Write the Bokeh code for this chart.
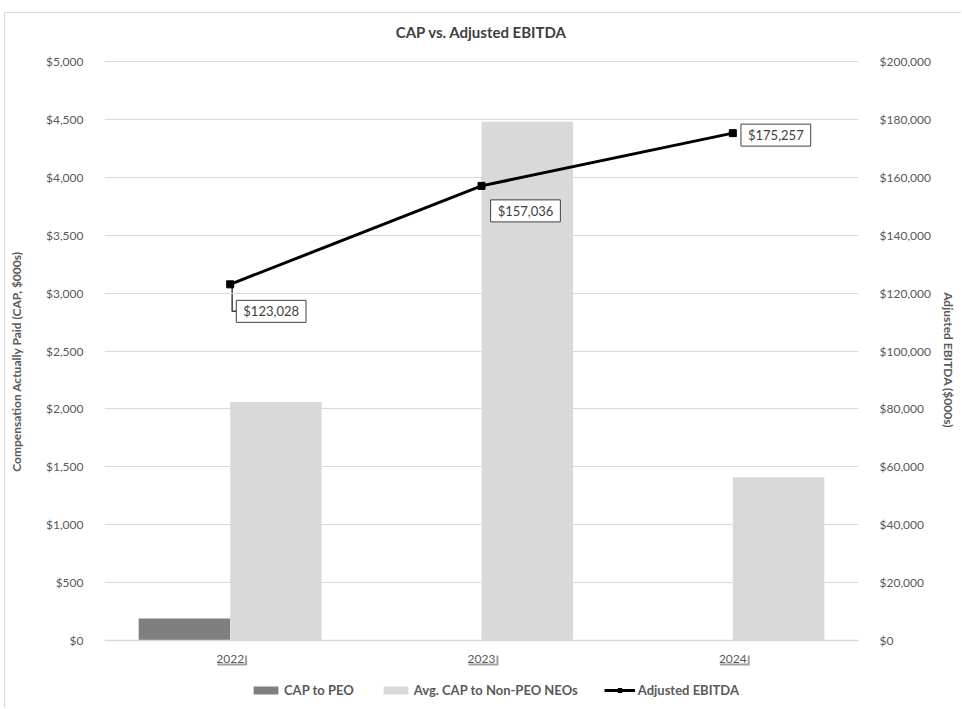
from bokeh.plotting import figure
from bokeh.models import (FactorRange, Range1d, LinearAxis, NumeralTickFormatter, FixedTicker,
                          Label, Legend, LegendItem, ColumnDataSource, Span)
from bokeh.transform import dodge
from bokeh.embed import file_html
from bokeh.resources import INLINE

# --- data ($000s) ---
years = ["2022", "2023", "2024"]
cap_peo = [190, 0, 0]
cap_neo = [2060, 4480, 1410]
ebitda = [123028, 157036, 175257]
ebitda_labels = ["$123,028", "$157,036", "$175,257"]
cap_ticks = list(range(0, 5001, 500))
ebitda_ticks = list(range(0, 200001, 20000))

FONT = "Lato"
GRID = "#d9d9d9"
TEXT = "#595959"
DARK_BAR = "#7f7f7f"
LIGHT_BAR = "#d9d9d9"

# page placement: the chart box sits 4px from the left and 12px from the top
W, H = 957, 696
LEFT, RIGHT = 95, 104
AREA_TOP, AREA_BOTTOM = 48, 627          # pixel rows of the 5000 / 0 gridlines
FRAME_W = W - LEFT - RIGHT
AREA_H = AREA_BOTTOM - AREA_TOP

cap_max = cap_ticks[-1]
eb_max = ebitda_ticks[-1]
px_x = len(years) / FRAME_W
px_cap = cap_max / AREA_H
px_eb = eb_max / AREA_H

src = ColumnDataSource(dict(year=years, peo=cap_peo, neo=cap_neo, ebitda=ebitda))

# the frame spans the full height so title, year labels and legend can sit inside it
p = figure(x_range=FactorRange(*years),
           y_range=Range1d(-(H - AREA_BOTTOM) * px_cap, cap_max + AREA_TOP * px_cap),
           width=W, height=H, output_backend="svg", toolbar_location=None,
           x_axis_location=None,
           min_border_left=LEFT, min_border_right=RIGHT,
           min_border_top=0, min_border_bottom=0,
           margin=(12, 0, 0, 4),
           styles={"border-top": f"1px solid {GRID}", "border-left": f"1px solid {GRID}"})
p.extra_y_ranges = {"ebitda": Range1d(-(H - AREA_BOTTOM) * px_eb, eb_max + AREA_TOP * px_eb)}
p.outline_line_color = None
p.background_fill_color = "white"
p.border_fill_color = "white"

# gridlines
p.xgrid.grid_line_color = None
p.ygrid.grid_line_color = GRID
p.ygrid.grid_line_width = 1
p.ygrid.ticker = FixedTicker(ticks=cap_ticks)
p.add_layout(Span(location=0, dimension="width", line_color=GRID, line_width=1.5))

# bars
bw = 0.364
r_peo = p.vbar(x=dodge("year", -bw / 2, range=p.x_range), top="peo", width=bw,
               source=src, fill_color=DARK_BAR, line_color=None)
r_neo = p.vbar(x=dodge("year", bw / 2, range=p.x_range), top="neo", width=bw,
               source=src, fill_color=LIGHT_BAR, line_color=None)

# EBITDA line on the secondary axis
r_line = p.line(x="year", y="ebitda", source=src, y_range_name="ebitda",
                line_color="black", line_width=3)
r_pts = p.scatter(x="year", y="ebitda", source=src, y_range_name="ebitda",
                  marker="square", size=7, fill_color="black", line_color="black")

# y axes
left_ax = p.yaxis[0]
left_ax.ticker = FixedTicker(ticks=cap_ticks)
left_ax.formatter = NumeralTickFormatter(format="$0,0")
left_ax.axis_label = "Compensation Actually Paid (CAP, $000s)"
left_ax.axis_label_standoff = 19

right_ax = LinearAxis(y_range_name="ebitda", ticker=FixedTicker(ticks=ebitda_ticks),
                      formatter=NumeralTickFormatter(format="$0,0"),
                      axis_label="Adjusted EBITDA  ($000s)", axis_label_standoff=7)
p.add_layout(right_ax, "right")

for ax in (left_ax, right_ax):
    ax.axis_line_color = None
    ax.major_tick_line_color = None
    ax.minor_tick_line_color = None
    ax.major_label_standoff = 15
    ax.major_label_text_font = FONT
    ax.major_label_text_font_size = "12px"
    ax.major_label_text_color = TEXT
    ax.axis_label_text_font = FONT
    ax.axis_label_text_font_size = "12px"
    ax.axis_label_text_font_style = "bold"
    ax.axis_label_text_color = TEXT

# category labels with a drop-shadow box
for i, yr in enumerate(years):
    for dx, dy, bg, col in ((2, -20, "#a0a0a0", "#a0a0a0"), (0, -18, "white", TEXT)):
        p.add_layout(Label(x=i + 0.5, y=0, x_offset=dx, y_offset=dy, text=yr,
                           text_align="center", text_baseline="middle",
                           text_font=FONT, text_font_size="12px", text_color=col,
                           background_fill_color=bg, padding=1))

# title
p.add_layout(Label(x=len(years) / 2, y=cap_max, y_offset=30,
                   text="CAP vs. Adjusted EBITDA", text_align="center",
                   text_baseline="middle", text_font=FONT, text_font_size="15px",
                   text_font_style="bold", text_color="#404040"))

# data labels for EBITDA with leader lines
offsets = [(41, -27), (44, -25), (43, -2)]
for i, (txt, (dx, dy)) in enumerate(zip(ebitda_labels, offsets)):
    p.add_layout(Label(x=i + 0.5, y=ebitda[i], y_range_name="ebitda",
                       x_offset=dx, y_offset=dy, text=txt,
                       text_align="center", text_baseline="middle",
                       text_font=FONT, text_font_size="13px", text_color="#404040",
                       background_fill_color="white", border_line_color="#404040",
                       border_line_width=1,
                       padding=dict(left=7, right=7, top=3, bottom=3)))
    if dy < -10:
        x0 = i + 0.5 + 2 * px_x
        x1 = i + 0.5 + (dx - 34) * px_x
        yb = ebitda[i] + dy * px_eb
        p.line(x=[x0, x0, x1], y=[ebitda[i], yb, yb], y_range_name="ebitda",
               line_color="#404040", line_width=1.5, level="underlay")

# legend along the bottom
legend = Legend(items=[LegendItem(label="CAP to PEO", renderers=[r_peo]),
                       LegendItem(label="Avg. CAP to Non-PEO NEOs", renderers=[r_neo]),
                       LegendItem(label="Adjusted EBITDA", renderers=[r_line, r_pts])],
                orientation="horizontal", location=(146, 11),
                label_text_font=FONT, label_text_font_size="13px",
                label_text_font_style="bold", label_text_color=TEXT,
                glyph_width=31, glyph_height=10, label_standoff=3, spacing=26,
                padding=0, margin=0, background_fill_alpha=0, border_line_color=None)
p.add_layout(legend, "center")

open("out.html", "w").write(file_html(p, INLINE))
